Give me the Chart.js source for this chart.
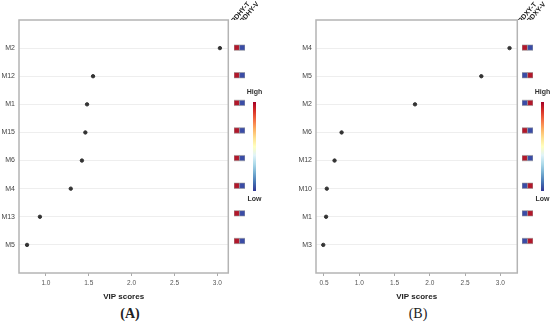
<!DOCTYPE html>
<html>
<head>
<meta charset="utf-8">
<script src="https://cdn.jsdelivr.net/npm/chart.js@4.4.1/dist/chart.umd.min.js"></script>
<style>
  html, body { margin: 0; padding: 0; background: #fff; }
  body { width: 550px; height: 327px; position: relative; overflow: hidden; font-family: "Liberation Sans", Arial, sans-serif; }
  .cv { position: absolute; }
  .bar { position: absolute; width: 3px; height: 89px; top: 102px;
    background: linear-gradient(to bottom, #a50026, #d73027, #f46d43, #fdae61, #fee090, #ffffbf, #e0f3f8, #abd9e9, #74add1, #4575b4, #313695); }
  .lbl { position: absolute; font-size: 7px; font-weight: bold; color: #333; transform: translateX(-50%); white-space: nowrap; }
  .panel { position: absolute; font-family: "Liberation Serif", "Times New Roman", serif; font-size: 14px; color: #222; transform: translateX(-50%); top: 306px; }
</style>
</head>
<body>
<div class="cv" style="left:0;top:0;width:231px;height:305px"><canvas id="mainA"></canvas></div>
<div class="cv" style="left:229px;top:0;width:33px;height:273px"><canvas id="heatA"></canvas></div>
<div class="cv" style="left:295px;top:0;width:225px;height:305px"><canvas id="mainB"></canvas></div>
<div class="cv" style="left:517px;top:0;width:33px;height:273px"><canvas id="heatB"></canvas></div>

<div class="bar" style="left:253px"></div>
<div class="lbl" style="left:254.5px;top:88px">High</div>
<div class="lbl" style="left:254.5px;top:195px">Low</div>
<div class="bar" style="left:541px"></div>
<div class="lbl" style="left:542.5px;top:88px">High</div>
<div class="lbl" style="left:542.5px;top:195px">Low</div>

<div class="panel" style="left:130px;font-weight:bold">(A)</div>
<div class="panel" style="left:418px">(B)</div>

<script>
// ---------- data ----------
const metabolitesA = ['M2', 'M12', 'M1', 'M15', 'M6', 'M4', 'M13', 'M5'];
const vipA = [3.03, 1.55, 1.48, 1.46, 1.42, 1.29, 0.93, 0.78];
const groupsA = ['RDHY-T', 'RDHY-V'];
const heatA_T = [1, 1, 1, 1, 1, 1, 1, 1];
const heatA_V = [0, 0, 0, 0, 0, 0, 0, 0];

const metabolitesB = ['M4', 'M5', 'M2', 'M6', 'M12', 'M10', 'M1', 'M3'];
const vipB = [3.13, 2.73, 1.79, 0.75, 0.65, 0.54, 0.53, 0.49];
const groupsB = ['RDXY-T', 'RDXY-V'];
const heatB_T = [1, 0, 0, 1, 1, 0, 0, 0];
const heatB_V = [0, 1, 1, 0, 0, 1, 1, 1];

const xTickStep = 0.5;
const axisTitle = 'VIP scores';

// ---------- helpers ----------
const HIGH = '#b2182b', LOW = '#3a4ca6';
const heatColor = v => (v >= 0.5 ? HIGH : LOW);

const boxPlugin = {
  id: 'box',
  afterDraw(chart) {
    const a = chart.chartArea, c = chart.ctx;
    c.save();
    c.strokeStyle = '#b4b4b4';
    c.lineWidth = 1.5;
    c.strokeRect(a.left, a.top, a.right - a.left, a.bottom - a.top);
    c.restore();
  }
};

function mainChart(id, labels, vals, xmin, xmax, yWidth) {
  return new Chart(document.getElementById(id), {
    type: 'scatter',
    data: {
      datasets: [{
        data: vals.map((v, i) => ({ x: v, y: i })),
        backgroundColor: '#333',
        borderColor: '#333',
        pointRadius: 1.7,
        pointHoverRadius: 1.7
      }]
    },
    options: {
      responsive: true, maintainAspectRatio: false, animation: false,
      layout: { padding: { top: 20, right: 2, left: 0, bottom: 0 } },
      plugins: { legend: { display: false }, tooltip: { enabled: false } },
      scales: {
        x: {
          type: 'linear', min: xmin, max: xmax,
          border: { display: false },
          grid: { display: true, drawOnChartArea: false, tickLength: 3, tickColor: '#aaa' },
          ticks: { stepSize: xTickStep, includeBounds: false, padding: 3, color: '#555',
                   font: { size: 6.5, family: 'Liberation Sans' },
                   callback: v => v.toFixed(1) },
          title: { display: true, text: axisTitle, color: '#222',
                   font: { size: 8, weight: 'bold', family: 'Liberation Sans' },
                   padding: { top: 0, bottom: 3 } },
          afterFit(s) { s.height = 32; s.paddingLeft = 0; s.paddingRight = 0; }
        },
        y: {
          type: 'linear', min: -1, max: labels.length, reverse: true,
          border: { display: false },
          grid: { color: '#eeeeee', lineWidth: 1, tickLength: 2, tickColor: '#fff' },
          afterBuildTicks(s) { s.ticks = labels.map((_, i) => ({ value: i })); },
          ticks: { padding: 2, color: '#444', font: { size: 7, family: 'Liberation Sans' },
                   callback: v => labels[v] },
          afterFit(s) { s.width = yWidth; s.paddingTop = 0; s.paddingBottom = 0; }
        }
      }
    },
    plugins: [boxPlugin]
  });
}

function heatChart(id, groups, rows, colT, colV, labelShift) {
  const pts = [];
  const cols = [];
  rows.forEach((_, i) => {
    pts.push({ x: 0, y: i }); cols.push(heatColor(colT[i]));
    pts.push({ x: 1, y: i }); cols.push(heatColor(colV[i]));
  });
  return new Chart(document.getElementById(id), {
    type: 'scatter',
    data: {
      datasets: [{
        data: pts,
        pointStyle: 'rect',
        pointRadius: 3.8,
        pointHoverRadius: 3.8,
        backgroundColor: cols,
        borderColor: '#9a9a9a',
        borderWidth: 0.6
      }]
    },
    options: {
      responsive: true, maintainAspectRatio: false, animation: false,
      layout: { padding: { top: 0, right: 17, left: 5, bottom: 0 } },
      plugins: { legend: { display: false }, tooltip: { enabled: false } },
      scales: {
        x: { type: 'linear', display: false, min: -0.5, max: 1.5 },
        x2: {
          type: 'linear', position: 'top', axis: 'x', min: -0.25, max: 1.0,
          border: { display: false },
          grid: { display: false, drawTicks: false },
          afterBuildTicks(s) { s.ticks = groups.map((_, i) => ({ value: i })); },
          ticks: { autoSkip: false, minRotation: 50, maxRotation: 50, padding: -5,
                   labelOffset: labelShift,
                   color: '#222', font: { size: 6.8, weight: 'bold', family: 'Liberation Sans' },
                   callback: v => groups[v] },
          afterFit(s) { s.height = 20; s.paddingLeft = 0; s.paddingRight = 0; }
        },
        y: { type: 'linear', display: false, min: -1, max: rows.length, reverse: true }
      }
    }
  });
}

mainChart('mainA', metabolitesA, vipA, 0.686, 3.128, 19);
heatChart('heatA', groupsA, metabolitesA, heatA_T, heatA_V, 2.5);
mainChart('mainB', metabolitesB, vipB, 0.387, 3.24, 21);
heatChart('heatB', groupsB, metabolitesB, heatB_T, heatB_V, 1.5);
</script>
</body>
</html>
